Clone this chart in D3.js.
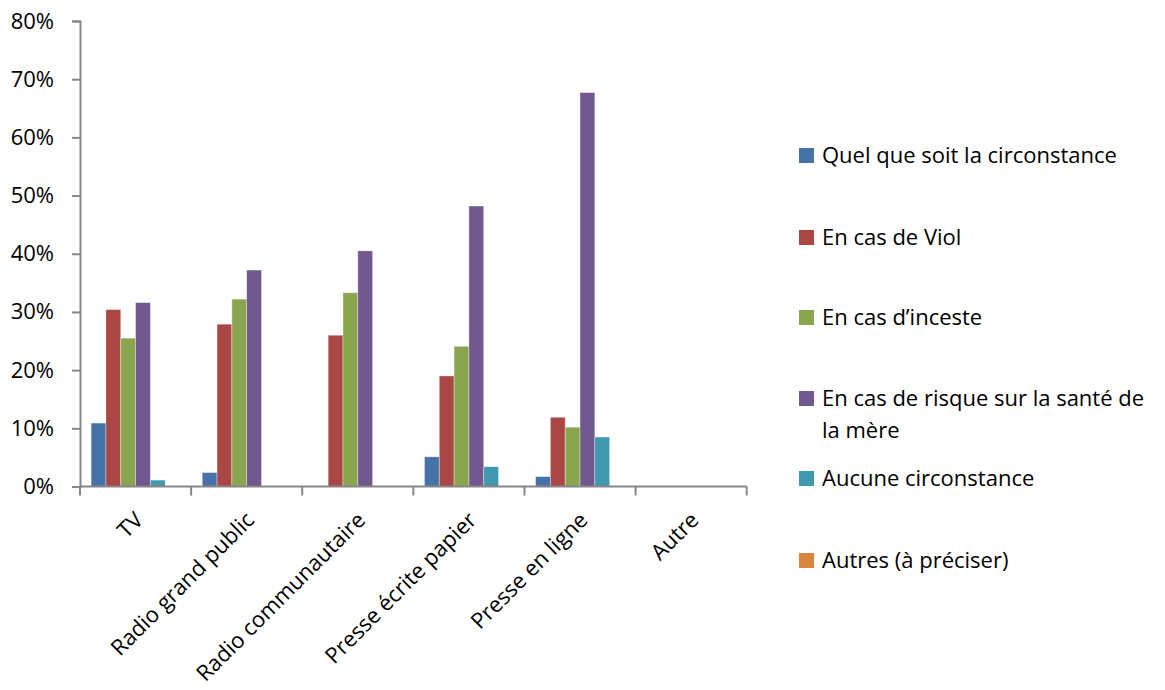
<!DOCTYPE html>
<html><head><meta charset="utf-8">
<script src="https://cdn.jsdelivr.net/npm/d3@7"></script>
<style>body{margin:0;background:#fff}svg{display:block;font-family:"Open Sans",sans-serif}</style>
</head><body><svg id="c" width="1165" height="690"></svg>
<script>
const categories = ["TV","Radio grand public","Radio communautaire","Presse écrite papier","Presse en ligne","Autre"];
const seriesNames = ["Quel que soit la circonstance","En cas de Viol","En cas d’inceste","En cas de risque sur la santé de la mère","Aucune circonstance","Autres (à préciser)"];
const quelQue   = [0.109,0.024,0.000,0.051,0.017,0];
const viol      = [0.304,0.279,0.260,0.190,0.119,0];
const inceste   = [0.255,0.322,0.333,0.241,0.102,0];
const santeMere = [0.316,0.372,0.405,0.482,0.677,0];
const aucune    = [0.011,0.000,0.000,0.034,0.085,0];
const autres    = [0,0,0,0,0,0];
const yTicks = [0,0.1,0.2,0.3,0.4,0.5,0.6,0.7,0.8];
const colors = ["#4572A7","#AA4643","#89A54E","#71588F","#4198AF","#DB843D"];
const seriesValues = [quelQue,viol,inceste,santeMere,aucune,autres];

const FS = 22;
const svg = d3.select("#c");
const L=80,R=746.7,T=21,B=486.5;
const x0 = d3.scaleBand().domain(categories).range([L,R]).padding(0);
const x1 = d3.scaleBand().domain(d3.range(6)).range([x0.bandwidth()*0.1,x0.bandwidth()*0.9]).padding(0);
const y = d3.scaleLinear().domain([0,0.8]).range([B,T]);
const axisColor="#868686";

const g = svg.append("g");
categories.forEach((c,ci)=>{
  seriesValues.forEach((vals,si)=>{
    const v = vals[ci];
    if(v<=0) return;
    g.append("rect")
      .attr("x",x0(c)+x1(si)).attr("y",y(v))
      .attr("width",x1.bandwidth()).attr("height",B-y(v))
      .attr("fill",colors[si])
      .attr("stroke","rgba(255,255,255,0.45)").attr("stroke-width",0.8);
  });
});

const ya = svg.append("g").attr("transform",`translate(${L},0)`)
  .call(d3.axisLeft(y).tickValues(yTicks).tickFormat(d3.format(".0%")).tickSize(8).tickSizeOuter(8));
ya.select(".domain").attr("stroke",axisColor).attr("stroke-width",2);
ya.selectAll(".tick line").attr("stroke",axisColor).attr("stroke-width",2);
ya.selectAll("text").attr("font-size",FS).attr("fill","#000").attr("x",-26).attr("font-family","'Open Sans',sans-serif");

const xa = svg.append("g").attr("transform",`translate(0,${B})`);
xa.append("line").attr("x1",L).attr("x2",R).attr("stroke",axisColor).attr("stroke-width",2);
const bounds = categories.map(c=>x0(c)).concat([R]);
xa.selectAll("line.tk").data(bounds).enter().append("line").attr("class","tk")
  .attr("x1",d=>d).attr("x2",d=>d).attr("y1",0).attr("y2",9).attr("stroke",axisColor).attr("stroke-width",2);
xa.selectAll("text").data(categories).enter().append("text")
  .attr("transform",d=>`translate(${x0(d)+x0.bandwidth()/2-2},${24}) rotate(-45)`)
  .attr("text-anchor","end").attr("dy","0.7em")
  .attr("font-size",FS).attr("fill","#000").text(d=>d);

const legY = [155,237,317,398,478,560];
const lg = svg.append("g");
seriesNames.forEach((n,i)=>{
  lg.append("rect").attr("x",799).attr("y",legY[i]-7).attr("width",15).attr("height",15).attr("fill",colors[i]);
  const t = lg.append("text").attr("x",822).attr("y",legY[i]).attr("dy","0.35em").attr("font-size",FS).attr("fill","#000");
  if(i===3){
    t.append("tspan").attr("x",822).text("En cas de risque sur la santé de");
    t.append("tspan").attr("x",822).attr("dy",32).text("la mère");
  } else t.text(n);
});
</script></body></html>
